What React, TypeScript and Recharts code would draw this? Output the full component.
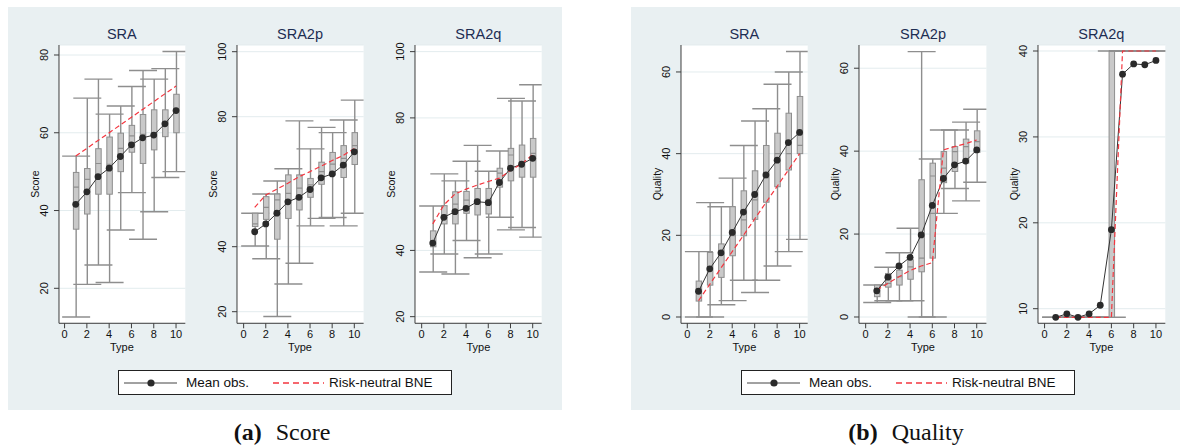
import React from 'react';
import { ComposedChart, Bar, Line, XAxis, YAxis, CartesianGrid } from 'recharts';

// ---------- data ----------
const types = [1, 2, 3, 4, 5, 6, 7, 8, 9, 10];
const xTicks = [0, 2, 4, 6, 8, 10];

// (a) Score — SRA
const a1Min = [12.6, 21, 26, 21.5, 35, 44.6, 32.6, 39.7, 48.5, 50];
const a1Q1 = [35.2, 39.1, 44.2, 44.2, 50, 55, 52.1, 55.6, 59, 60];
const a1Med = [46, 48, 52.1, 51.9, 56, 59.2, 59.6, 60, 62.7, 66];
const a1Q3 = [49.8, 50.8, 55.9, 58.9, 59.9, 61.9, 64.7, 65.9, 65.9, 69.9];
const a1Max = [54, 68.9, 73.8, 64.8, 66.9, 71.9, 76, 73.8, 76.5, 80.9];
const a1Mean = [41.6, 44.8, 48.7, 50.9, 53.9, 56.9, 58.7, 59.4, 62.3, 65.7];
const a1Bne = [54, 56, 58, 60, 62, 64, 66, 68, 70, 72];

// (a) Score — SRA2p
const a2Min = [40.2, 36.3, 18.5, 28.5, 34.9, 46.4, 48.7, 49.0, 46.4, 50.3];
const a2Q1 = [46.2, 48.4, 42.3, 48.7, 51.3, 55.2, 59.2, 62.1, 61.3, 65.3];
const a2Med = [47, 52.1, 54.4, 56.4, 58, 59, 63.1, 65.4, 67.2, 71.1];
const a2Q3 = [50.3, 55.4, 56.2, 62.1, 62.1, 61.0, 66.0, 69.0, 71.1, 75.1];
const a2Max = [50.3, 56.2, 60.2, 64.0, 78.7, 70.1, 76.7, 75.1, 79.0, 85.1];
const a2Mean = [44.6, 47.0, 50.3, 53.8, 55.2, 57.6, 61.2, 62.4, 65.1, 69.2];
const a2Bne = [52.1, 55.9, 57.7, 59.5, 61.5, 63.1, 64.8, 66.5, 68.1, 70.2];

// (a) Score — SRA2q
const a3Min = [33.5, 38.9, 32.9, 43.0, 37.8, 38.9, 50.0, 46.2, 46.9, 44.0];
const a3Q1 = [41.1, 48.0, 48.0, 51.2, 50.7, 51.0, 59.1, 61.0, 62.1, 62.1];
const a3Med = [42.4, 50.7, 54.0, 55.2, 55.4, 55.4, 63.3, 68.8, 66.3, 69.3];
const a3Q3 = [45.9, 53.5, 57.7, 57.8, 58.7, 58.7, 64.8, 70.8, 71.8, 73.8];
const a3Max = [53.4, 63.1, 61.0, 66.9, 71.7, 63.9, 70.0, 85.9, 85.1, 90.0];
const a3Mean = [42.2, 50.0, 51.7, 52.7, 54.7, 54.4, 60.5, 64.8, 66.0, 67.8];
const a3Bne = [48.0, 53.7, 57.0, 58.5, 59.7, 60.8, 61.8, 64.1, 66.1, 68.9];

// (b) Quality — SRA
const b1Min = [0, 0, 3, 4, 9, 6, 9, 12.5, 16, 19];
const b1Q1 = [3.9, 7.8, 9.7, 15.0, 19.9, 23.9, 28.1, 31.9, 36.0, 40.0];
const b1Med = [5.8, 12.3, 15.6, 19.9, 23.8, 28.7, 34.1, 40.0, 40.0, 42.0];
const b1Q3 = [8.8, 15.8, 17.9, 27.0, 30.9, 35.8, 42.0, 45.0, 49.9, 54.0];
const b1Max = [16, 28, 27, 34, 42, 48, 51, 57, 60, 65];
const b1Mean = [6.3, 11.8, 15.7, 20.7, 25.7, 30.0, 34.8, 38.4, 42.7, 45.2];
const b1Bne = [4, 8, 12, 16, 20, 24, 28, 32, 36, 40];

// (b) Quality — SRA2p
const b2Min = [3.5, 3.9, 3.9, 3.9, 0, 0, 25, 31, 28, 32.5];
const b2Q1 = [4.9, 7.2, 7.7, 9.1, 10.9, 14.2, 32.4, 35.1, 37.1, 39.7];
const b2Med = [5.7, 8.1, 9.7, 12.1, 14.2, 34.0, 35.9, 39.9, 41.1, 42.3];
const b2Q3 = [7.7, 10.5, 11.3, 13.8, 33.1, 37.1, 39.9, 41.1, 42.9, 44.9];
const b2Max = [7.7, 12.0, 15.5, 21.4, 64.0, 38.1, 45.1, 45.1, 47.0, 50.1];
const b2Mean = [6.3, 9.6, 12.3, 14.4, 19.8, 26.9, 33.4, 36.7, 37.6, 40.3];
const b2Bne = [6.5, 8.1, 9.7, 11.2, 12.3, 13.1, 40.3, 41.1, 41.8, 42.7];

// (b) Quality — SRA2q
const b3Min = [9, 9, 9, 9, 9, 9, 40, 40, 40, 40];
const b3Q1 = [9, 9, 9, 9, 9, 9, 40, 40, 40, 40];
const b3Med = [9, 9, 9, 9, 9, 9, 40, 40, 40, 40];
const b3Q3 = [9, 9, 9, 9, 9, 40, 40, 40, 40, 40];
const b3Max = [9, 9, 9, 9, 9, 40, 40, 40, 40, 40];
const b3Mean = [9.0, 9.4, 9.0, 9.4, 10.4, 19.2, 37.3, 38.5, 38.4, 38.9];
const b3Bne = [9, 9, 9, 9, 9, 9, 40, 40, 40, 40];

// ---------- helpers ----------
function buildRows(mn: number[], q1: number[], med: number[], q3: number[], mx: number[], mean: number[], bne: number[]) {
  return types.map((t, i) => ({
    type: t,
    range: [mn[i], mx[i]],
    min: mn[i], q1: q1[i], med: med[i], q3: q3[i], max: mx[i],
    mean: mean[i], bne: bne[i],
  }));
}

const FONT = '"Liberation Sans", Arial, Helvetica, sans-serif';
const BG = '#e9f0f2';
const GRID = '#e3ecee';
const WHISK = '#8e8e8e';
const BOXFILL = '#c9c9c9';
const AXIS = '#3c3c3c';
const RED = '#f4363f';
const DOT = '#2a2a2a';

const BOX_W = 5.5;
const CAP_W = 28;

const BoxShape = (props: any) => {
  const { x, y, width, height, payload } = props;
  if (x == null || y == null || !payload) return null;
  const cx = x + width / 2;
  const top = Math.min(y, y + height);
  const h = Math.abs(height);
  const span = payload.max - payload.min;
  const ppu = span > 0 ? h / span : 0;
  const py = (v: number) => top + (payload.max - v) * ppu;
  const yMax = py(payload.max);
  const yMin = py(payload.min);
  const yQ3 = py(payload.q3);
  const yQ1 = py(payload.q1);
  const yMed = py(payload.med);
  return (
    <g>
      <line x1={cx} x2={cx} y1={yMax} y2={yMin} stroke={WHISK} strokeWidth={1.4} />
      <line x1={cx - CAP_W / 2} x2={cx + CAP_W / 2} y1={yMax} y2={yMax} stroke={WHISK} strokeWidth={1.4} />
      <line x1={cx - CAP_W / 2} x2={cx + CAP_W / 2} y1={yMin} y2={yMin} stroke={WHISK} strokeWidth={1.4} />
      {yQ1 - yQ3 > 0.01 && (
        <rect x={cx - BOX_W / 2} y={yQ3} width={BOX_W} height={yQ1 - yQ3} fill={BOXFILL} stroke={WHISK} strokeWidth={1} />
      )}
      {yQ1 - yQ3 > 0.01 && (
        <line x1={cx - BOX_W / 2} x2={cx + BOX_W / 2} y1={yMed} y2={yMed} stroke={WHISK} strokeWidth={1.2} />
      )}
    </g>
  );
};

const YTick = (props: any) => {
  const { x, y, payload } = props;
  return (
    <text x={x} y={y} transform={`rotate(-90 ${x} ${y})`} textAnchor="middle" fontSize={11} fill="#111" fontFamily={FONT}>
      {payload.value}
    </text>
  );
};

const XTick = (props: any) => {
  const { x, y, payload } = props;
  return (
    <text x={x} y={y} dy="0.71em" textAnchor="middle" fontSize={11} fill="#111" fontFamily={FONT}>
      {payload.value}
    </text>
  );
};

const PLOT_TOP = 45;
const PLOT_H = 278.3;
const CH_TOP = 40;
const LEFT_PAD = 45;
const RIGHT_PAD = 22;
const X_AX_H = 22;

type SubProps = {
  plotLeft: number; plotW: number; xDomain: [number, number]; yDomain: [number, number]; yTicks: number[];
  title: string; yLabel: string; rows: any[];
};

function Subplot({ plotLeft, plotW, xDomain, yDomain, yTicks, title, yLabel, rows }: SubProps) {
  const width = LEFT_PAD + plotW + RIGHT_PAD;
  const height = (PLOT_TOP - CH_TOP) + PLOT_H + X_AX_H;
  return (
    <>
      <div style={{ position: 'absolute', left: plotLeft, width: plotW, top: 26, textAlign: 'center', fontFamily: FONT, fontSize: 14.5, color: '#1d2d52', lineHeight: '17px' }}>{title}</div>
      <div style={{ position: 'absolute', left: plotLeft - 24, top: PLOT_TOP + PLOT_H / 2, transform: 'translate(-50%, -50%) rotate(-90deg)', fontFamily: FONT, fontSize: 10.5, color: '#111', whiteSpace: 'nowrap', lineHeight: '12px' }}>{yLabel}</div>
      <div style={{ position: 'absolute', left: plotLeft, width: plotW, top: 341, textAlign: 'center', fontFamily: FONT, fontSize: 11, color: '#111', lineHeight: '13px' }}>Type</div>
      <div style={{ position: 'absolute', left: plotLeft - LEFT_PAD, top: CH_TOP }}>
        <ComposedChart width={width} height={height} data={rows} margin={{ top: PLOT_TOP - CH_TOP, right: RIGHT_PAD, left: 0, bottom: 0 }}>
          <CartesianGrid vertical={false} stroke={GRID} fill="#ffffff" strokeWidth={1} />
          <XAxis dataKey="type" type="number" domain={xDomain} ticks={xTicks} allowDataOverflow height={X_AX_H}
            tickSize={5} tickMargin={2} tick={<XTick />} axisLine={{ stroke: AXIS }} tickLine={{ stroke: AXIS }} interval={0} />
          <YAxis type="number" domain={yDomain} ticks={yTicks} allowDataOverflow width={LEFT_PAD}
            tickSize={5} tickMargin={5.5} tick={<YTick />} axisLine={{ stroke: AXIS }} tickLine={{ stroke: AXIS }} interval={0} />
          <Bar dataKey="range" barSize={6} shape={<BoxShape />} isAnimationActive={false} />
          <Line dataKey="mean" type="linear" stroke="#333" strokeWidth={1} isAnimationActive={false}
            dot={{ r: 3.4, fill: DOT, stroke: DOT, strokeWidth: 0 }} activeDot={false} />
          <Line dataKey="bne" type="linear" stroke={RED} strokeWidth={1.2} strokeDasharray="5 3" dot={false} activeDot={false} isAnimationActive={false} />
        </ComposedChart>
      </div>
    </>
  );
}

function LegendBox({ left }: { left: number }) {
  return (
    <div style={{ position: 'absolute', left, top: 370, width: 332, height: 23, border: '1px solid #222', background: '#fff' }}>
      <svg width={332} height={23} style={{ position: 'absolute', left: 0, top: 0 }}>
        <line x1={5} x2={58} y1={12} y2={12} stroke="#444" strokeWidth={1} />
        <circle cx={32} cy={12} r={3.6} fill={DOT} />
        <line x1={154} x2={205} y1={12} y2={12} stroke={RED} strokeWidth={1.3} strokeDasharray="6 4" />
      </svg>
      <div style={{ position: 'absolute', left: 67, top: 4, fontFamily: FONT, fontSize: 13.5, color: '#111', lineHeight: '15px', whiteSpace: 'nowrap' }}>Mean obs.</div>
      <div style={{ position: 'absolute', left: 210, top: 4, fontFamily: FONT, fontSize: 13.5, color: '#111', lineHeight: '15px', whiteSpace: 'nowrap' }}>Risk-neutral BNE</div>
    </div>
  );
}

function Caption({ center, letter, text }: { center: number; letter: string; text: string }) {
  return (
    <div style={{ position: 'absolute', left: center - 150, width: 300, top: 418, textAlign: 'center', fontFamily: '"Liberation Serif", "Times New Roman", serif', fontSize: 24, color: '#111', lineHeight: '28px', whiteSpace: 'nowrap' }}>
      <span style={{ fontWeight: 'bold' }}>({letter})</span>
      <span style={{ marginLeft: 14 }}>{text}</span>
    </div>
  );
}

const a1Rows = buildRows(a1Min, a1Q1, a1Med, a1Q3, a1Max, a1Mean, a1Bne);
const a2Rows = buildRows(a2Min, a2Q1, a2Med, a2Q3, a2Max, a2Mean, a2Bne);
const a3Rows = buildRows(a3Min, a3Q1, a3Med, a3Q3, a3Max, a3Mean, a3Bne);
const b1Rows = buildRows(b1Min, b1Q1, b1Med, b1Q3, b1Max, b1Mean, b1Bne);
const b2Rows = buildRows(b2Min, b2Q1, b2Med, b2Q3, b2Max, b2Mean, b2Bne);
const b3Rows = buildRows(b3Min, b3Q1, b3Med, b3Q3, b3Max, b3Mean, b3Bne);

export default function App() {
  return (
    <div style={{ position: 'absolute', left: 0, top: 0, width: 1180, height: 447, background: '#fff', overflow: 'hidden' }}>
      <div style={{ position: 'absolute', left: 8, top: 7, width: 554, height: 403, background: BG }} />
      <div style={{ position: 'absolute', left: 631, top: 7, width: 549, height: 403, background: BG }} />

      <Subplot plotLeft={58.7} plotW={126.3} xDomain={[-0.5, 10.83]} yDomain={[11.0, 82.57]} yTicks={[20, 40, 60, 80]} title="SRA" yLabel="Score" rows={a1Rows} />
      <Subplot plotLeft={236.7} plotW={126.6} xDomain={[-0.6, 10.84]} yDomain={[16.43, 102.06]} yTicks={[20, 40, 80, 100]} title="SRA2p" yLabel="Score" rows={a2Rows} />
      <Subplot plotLeft={415} plotW={126.7} xDomain={[-0.6, 10.81]} yDomain={[18.0, 102.0]} yTicks={[20, 40, 80, 100]} title="SRA2q" yLabel="Score" rows={a3Rows} />

      <Subplot plotLeft={681} plotW={126.7} xDomain={[-0.56, 10.72]} yDomain={[-1.54, 66.6]} yTicks={[0, 20, 40, 60]} title="SRA" yLabel="Quality" rows={b1Rows} />
      <Subplot plotLeft={859.3} plotW={127.4} xDomain={[-0.6, 10.87]} yDomain={[-1.52, 65.6]} yTicks={[0, 20, 40, 60]} title="SRA2p" yLabel="Quality" rows={b2Rows} />
      <Subplot plotLeft={1037.7} plotW={127.3} xDomain={[-0.59, 10.84]} yDomain={[8.3, 40.7]} yTicks={[10, 20, 30, 40]} title="SRA2q" yLabel="Quality" rows={b3Rows} />

      <LegendBox left={118} />
      <LegendBox left={741} />

      <Caption center={282} letter="a" text="Score" />
      <Caption center={906} letter="b" text="Quality" />
    </div>
  );
}
